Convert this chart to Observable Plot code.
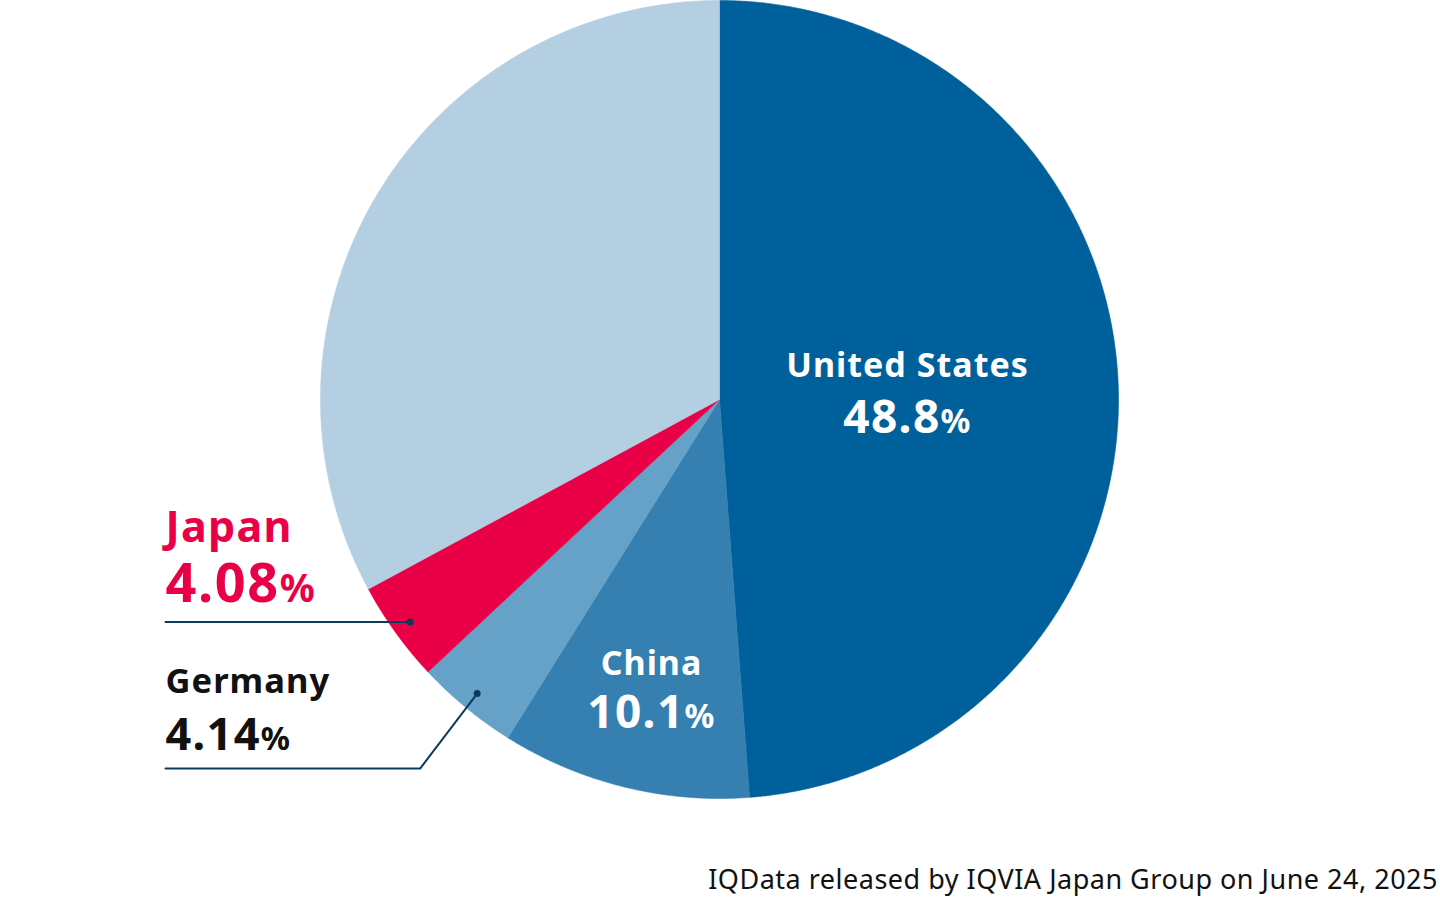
<!DOCTYPE html>
<html><head><meta charset="utf-8">
<script src="https://cdn.jsdelivr.net/npm/d3@7"></script>
<script src="https://cdn.jsdelivr.net/npm/@observablehq/plot@0.6"></script>
<style>
body{margin:0;background:#fff;font-family:"Noto Sans",sans-serif;}
#chart{position:relative;width:1440px;height:898px;overflow:hidden;}
#caption{position:absolute;right:2px;top:861px;font-size:27px;line-height:35px;letter-spacing:0.5px;color:#111;white-space:nowrap;}
</style></head><body>
<div id="chart"></div>
<script>
// ---- data ----
const countries = ["United States", "China", "Germany", "Japan", "Others"];
const shares = [48.8, 10.1, 4.14, 4.08, 32.88];
const shareLabels = ["48.8%", "10.1%", "4.14%", "4.08%", ""];
const colors = ["#00609C", "#3580B1", "#66A1C7", "#E90046", "#B4CFE2"];
const caption = "IQData released by IQVIA Japan Group on June 24, 2025";

// ---- geometry from data ----
const total = d3.sum(shares);
let acc = 0;
const slices = countries.map((name, i) => {
  const a0 = acc / total * 2 * Math.PI; acc += shares[i];
  const a1 = acc / total * 2 * Math.PI;
  return {name, label: shareLabels[i], a0, a1, mid: (a0 + a1) / 2};
});
const pts = slices.flatMap(s => {
  const n = Math.max(2, Math.ceil((s.a1 - s.a0) / (Math.PI / 720)));
  const arr = [{name: s.name, x: 0, y: 0}];
  for (let k = 0; k <= n; k++) {
    const a = s.a0 + (s.a1 - s.a0) * k / n;
    arr.push({name: s.name, x: Math.sin(a), y: Math.cos(a)});
  }
  arr.push({name: s.name, x: 0, y: 0});
  return arr;
});
const polar = (a, r) => ({x: r * Math.sin(a), y: r * Math.cos(a)});
const byName = Object.fromEntries(slices.map(s => [s.name, s]));

// ---- label styling ----
const insideStyle = {
  "United States": {r: 0.4716, nameDy: -15, valDy: 41, nameSize: 34, valSize: 46},
  "China": {r: 0.711, nameDy: 0, valDy: 53, nameSize: 34, valSize: 46}
};
const outsideStyle = {
  "Japan": {drop: 0, elbow: 0, nameDy: -80, valDy: -20, nameSize: 43, valSize: 54, color: "#E90046"},
  "Germany": {drop: 0.188, elbow: 0.143, nameDy: -76, valDy: -19, nameSize: 34.5, valSize: 45, color: "#111111"}
};
const leftX = -1.3885, dotR = 0.955, leaderColor = "#0B3A5C", spacing = "0.03em";

const marks = [
  Plot.line(pts, {x: "x", y: "y", z: "name", fill: "name", stroke: "name", strokeWidth: 0.6, curve: "linear"})
];
for (const [name, st] of Object.entries(insideStyle)) {
  const s = byName[name];
  const p = polar(s.mid, st.r);
  const row = [{...p, name, label: s.label}];
  marks.push(Plot.text(row, {x: "x", y: "y", text: "name", fill: "white", fontWeight: 700, fontSize: st.nameSize, lineAnchor: "bottom", dy: st.nameDy, textAnchor: "middle"}));
  marks.push(Plot.text(row, {x: "x", y: "y", text: "label", fill: "white", fontWeight: 700, fontSize: st.valSize, lineAnchor: "bottom", dy: st.valDy, textAnchor: "middle"}));
}
for (const [name, st] of Object.entries(outsideStyle)) {
  const s = byName[name];
  const d = polar(s.mid, dotR);
  const ly = d.y - st.drop;
  const leader = [{x: d.x, y: d.y}, {x: d.x - st.elbow, y: ly}, {x: leftX, y: ly}];
  marks.push(Plot.line(leader, {x: "x", y: "y", stroke: leaderColor, strokeWidth: 2}));
  marks.push(Plot.dot([d], {x: "x", y: "y", r: 3.5, fill: leaderColor}));
  const row = [{x: leftX, y: ly, name, label: s.label}];
  marks.push(Plot.text(row, {x: "x", y: "y", text: "name", fill: st.color, fontWeight: 700, fontSize: st.nameSize, lineAnchor: "bottom", dy: st.nameDy, textAnchor: "start"}));
  marks.push(Plot.text(row, {x: "x", y: "y", text: "label", fill: st.color, fontWeight: 700, fontSize: st.valSize, lineAnchor: "bottom", dy: st.valDy, textAnchor: "start"}));
}

const chart = Plot.plot({
  width: 1440,
  height: 850,
  margin: 0,
  style: {fontFamily: "'Noto Sans', sans-serif", background: "transparent", overflow: "visible"},
  x: {domain: [-1, 1], range: [320, 1118], axis: null},
  y: {domain: [-1, 1], range: [798, 0], axis: null},
  color: {domain: countries, range: colors},
  marks
});
chart.querySelectorAll("text").forEach(t => {
  t.style.letterSpacing = spacing;
  const s = t.textContent;
  if (s.endsWith("%") && t.children.length === 0) {
    t.textContent = s.slice(0, -1);
    const ts = document.createElementNS("http://www.w3.org/2000/svg", "tspan");
    ts.setAttribute("font-size", "0.72em");
    ts.textContent = "%";
    t.appendChild(ts);
  }
});
const root = document.getElementById("chart");
root.appendChild(chart);
const cap = document.createElement("div");
cap.id = "caption";
cap.textContent = caption;
root.appendChild(cap);
</script>
</body></html>
